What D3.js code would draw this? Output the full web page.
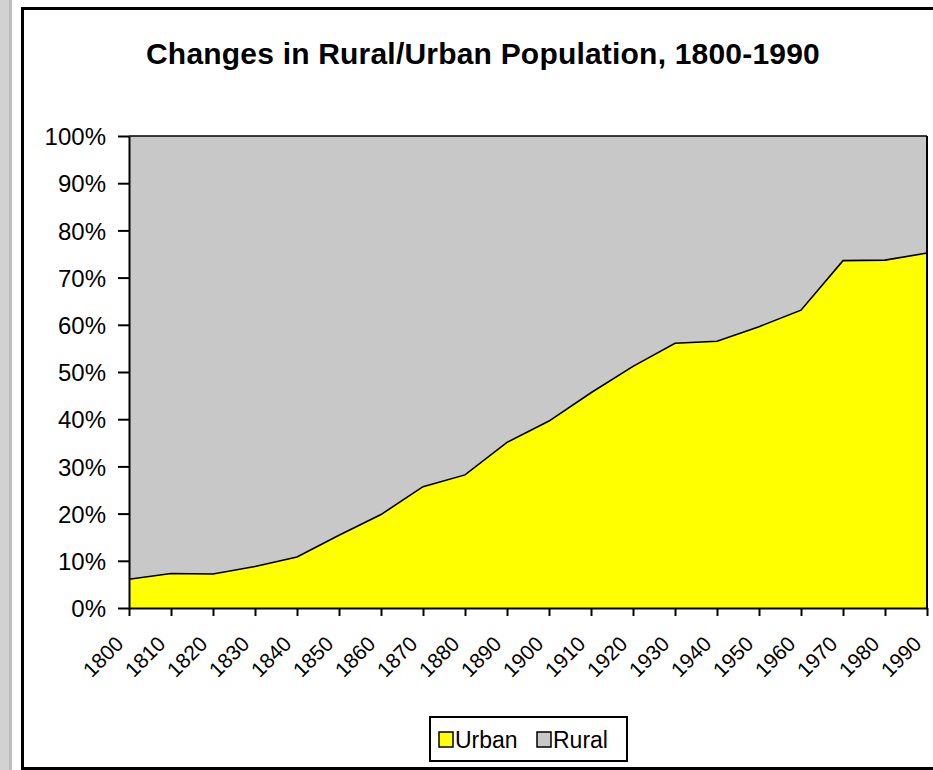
<!DOCTYPE html>
<html>
<head>
<meta charset="utf-8">
<script src="https://cdn.jsdelivr.net/npm/d3@7"></script>
<style>
  body { margin: 0; background: #fff; }
  svg text { font-family: "Liberation Sans", Arial, sans-serif; fill: #000; }
</style>
</head>
<body>
<div id="chart"></div>
<script>
var years = [1800, 1810, 1820, 1830, 1840, 1850, 1860, 1870, 1880, 1890,
             1900, 1910, 1920, 1930, 1940, 1950, 1960, 1970, 1980, 1990];
var urban = [6.1, 7.3, 7.2, 8.8, 10.8, 15.4, 19.8, 25.7, 28.2, 35.1,
             39.6, 45.6, 51.2, 56.1, 56.5, 59.6, 63.1, 73.6, 73.7, 75.2];
var rural = urban.map(function (v) { return 100 - v; });
var seriesNames = ['Urban', 'Rural'];
var seriesColours = ['#ffff00', '#c8c8c8'];
var yTicks = [0, 10, 20, 30, 40, 50, 60, 70, 80, 90, 100];
var title = 'Changes in Rural/Urban Population, 1800-1990';

var W = 933, H = 770;
var plot = { left: 129, right: 927, top: 136, bottom: 608 };

var svg = d3.select('#chart').append('svg')
    .attr('width', W)
    .attr('height', H);

// window edge strip + chart frame
svg.append('rect').attr('x', 0).attr('y', 0).attr('width', 12).attr('height', H).attr('fill', '#d2d2d2');
svg.append('rect').attr('x', 9).attr('y', 0).attr('width', 3).attr('height', H).attr('fill', '#bdbdbd');
svg.append('rect')
    .attr('x', 22.5).attr('y', 8.5)
    .attr('width', 1000).attr('height', 760)
    .attr('fill', '#fff')
    .attr('stroke', '#000')
    .attr('stroke-width', 3);

svg.append('text')
    .attr('x', 483)
    .attr('y', 64)
    .attr('text-anchor', 'middle')
    .style('font-size', '30px')
    .style('font-weight', 'bold')
    .style('letter-spacing', '0.2px')
    .text(title);

var x = d3.scalePoint()
    .domain(years)
    .range([plot.left, plot.right]);

var y = d3.scaleLinear()
    .domain([0, 100])
    .range([plot.bottom, plot.top]);

var table = years.map(function (yr, i) {
    return { year: yr, Urban: urban[i], Rural: rural[i] };
});

var stack = d3.stack().keys(seriesNames);
var layers = stack(table);

var area = d3.area()
    .x(function (d) { return x(d.data.year); })
    .y0(function (d) { return y(d[0]); })
    .y1(function (d) { return y(d[1]); });

svg.append('g').selectAll('path')
    .data(layers)
    .enter()
    .append('path')
    .attr('d', area)
    .attr('fill', function (d, i) { return seriesColours[i]; })
    .attr('stroke', 'none');

// borders of areas
var topLine = d3.line()
    .x(function (d) { return x(d.data.year); })
    .y(function (d) { return y(d[1]); });

layers.forEach(function (l) {
    svg.append('path')
        .attr('d', topLine(l))
        .attr('fill', 'none')
        .attr('stroke', '#000')
        .attr('stroke-width', 1.6);
});
svg.append('line')
    .attr('x1', plot.right).attr('x2', plot.right)
    .attr('y1', y(100)).attr('y2', y(0))
    .attr('stroke', '#000').attr('stroke-width', 2);

// y axis
var yAxis = svg.append('g')
    .attr('transform', 'translate(' + plot.left + ',0)')
    .call(d3.axisLeft(y)
        .tickValues(yTicks)
        .tickSize(11)
        .tickPadding(12)
        .tickSizeOuter(0)
        .tickFormat(function (d) { return d + '%'; }));
yAxis.selectAll('path, line').attr('stroke', '#000').attr('stroke-width', 2);
yAxis.selectAll('text').style('font-size', '24px').attr('dy', '0.36em');

// x axis
var xAxis = svg.append('g')
    .attr('transform', 'translate(0,' + plot.bottom + ')')
    .call(d3.axisBottom(x)
        .tickSize(8)
        .tickSizeOuter(0));
xAxis.selectAll('path, line').attr('stroke', '#000').attr('stroke-width', 2);
xAxis.selectAll('text')
    .style('font-size', '21px')
    .attr('text-anchor', 'end')
    .attr('x', 0).attr('y', 0)
    .attr('dy', '0.36em')
    .attr('transform', 'translate(-10,32) rotate(-45)');

// legend
var legend = svg.append('g');
legend.append('rect')
    .attr('x', 430).attr('y', 717)
    .attr('width', 197).attr('height', 44)
    .attr('fill', '#fff')
    .attr('stroke', '#000')
    .attr('stroke-width', 2);

var legendX = [439, 537];
seriesNames.forEach(function (name, i) {
    legend.append('rect')
        .attr('x', legendX[i]).attr('y', 732)
        .attr('width', 14).attr('height', 15)
        .attr('fill', seriesColours[i])
        .attr('stroke', '#000')
        .attr('stroke-width', 1.5);
    legend.append('text')
        .attr('x', legendX[i] + 16)
        .attr('y', 748)
        .style('font-size', '23px')
        .text(name);
});
</script>
</body>
</html>
